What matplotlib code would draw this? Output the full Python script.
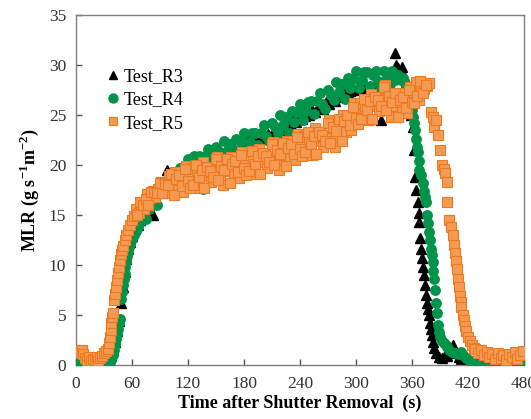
import matplotlib
matplotlib.use("Agg")
import matplotlib.pyplot as plt

# ---------------- data ----------------
r3_t = [0, 3, 6, 9, 12, 15, 18, 21, 24, 27, 30, 33, 36, 38, 40, 42, 44, 46,
        48, 50, 52, 54, 56, 58, 60, 63, 66, 69, 72, 75, 78, 81, 83, 86, 89, 92, 95, 98,
        101, 104, 107, 110, 113, 116, 119, 122, 125, 128, 131, 134, 137, 140, 143, 146, 149,
        152, 155, 158, 161, 164, 167, 170, 173, 176, 179, 182, 185, 188, 191, 194, 197, 200,
        203, 206, 209, 212, 215, 218, 221, 224, 227, 230, 233, 236, 239, 242, 245, 247, 250,
        253, 256, 259, 262, 265, 268, 271, 274, 277, 280, 283, 286, 288, 291, 294, 297, 300,
        303, 306, 309, 312, 316, 319, 322, 325, 327, 330, 333, 336, 339, 341.5, 343, 345, 347,
        349, 351, 353, 355, 357, 359, 361, 362, 363, 364, 366, 367, 368, 369, 370, 371, 372,
        373, 374, 375, 376, 377, 378, 379, 380, 381, 382, 384, 386, 389, 392, 395, 398, 401,
        404, 407, 410, 413, 416, 419, 422, 425, 428, 431, 434, 437, 440, 444, 448, 452, 456,
        460, 464, 468, 472, 476, 480]
r3_v = [0.2, 0.4, 0.3, 0.6, 0.2, 0.1, 0.0, 0.1, 0.2, 0.0, 0.1, 0.3, 0.4, 0.9, 1.5, 2.3, 3.4, 4.4,
        6.2, 7.8, 9.3, 10.6, 11.6, 12.3, 12.9, 13.6, 14.0, 14.5, 15.2, 15.6, 16.0, 16.5, 15.0, 17.2, 17.6, 17.4, 18.0, 19.5,
        18.2, 18.5, 18.6, 19.5, 18.8, 19.1, 19.0, 19.4, 20.0, 19.6, 20.2, 20.3, 20.0, 20.4, 20.6, 20.3, 20.8,
        20.7, 21.3, 21.0, 21.2, 21.3, 21.1, 21.5, 21.2, 21.7, 21.4, 22.0, 22.8, 22.0, 22.4, 22.2, 22.8, 22.7,
        22.6, 23.1, 22.9, 23.4, 23.3, 23.6, 23.5, 23.9, 24.8, 24.0, 24.5, 24.3, 24.7, 24.6, 24.9, 25.3, 25.0,
        25.5, 25.3, 25.7, 25.9, 25.6, 26.3, 26.1, 26.6, 26.4, 27.0, 26.8, 27.2, 28.0, 27.2, 27.4, 27.7, 27.5,
        28.0, 27.7, 28.0, 27.6, 24.6, 27.9, 28.2, 27.8, 24.5, 28.4, 28.6, 28.5, 29.0, 31.2, 30.0, 29.7, 29.2,
        29.8, 28.9, 28.0, 27.2, 26.0, 25.0, 23.8, 21.5, 18.8, 17.5, 16.3, 15.2, 14.3, 12.7, 11.6, 10.7, 9.8,
        9.0, 8.0, 7.0, 6.2, 5.6, 5.0, 4.2, 3.6, 3.0, 2.3, 1.7, 1.2, 0.8, 0.7, 1.0, 0.9, 1.4,
        2.0, 1.2, 0.8, 0.6, 0.4, 0.2, 0.0, 0.2, 0.1, 0.1, 0.0, 0.1, 0.0, 0.1, 0.0, 0.1, 0.0,
        0.1, 0.0, 0.1, 0.0, 0.1, 0.0]

r4_t = [0, 3, 6, 8, 10, 13, 16, 19, 22, 25, 28, 31, 34, 36, 38, 40, 41, 42, 43, 44, 45, 46, 47,
        48, 49, 50, 51, 52, 53, 54, 55, 56, 57, 58, 60, 62, 64, 66, 68, 70,
        72, 75, 78, 81, 84, 87, 90, 93, 96, 99, 102, 105, 108, 111, 114, 117, 120, 123, 126,
        129, 132, 136, 138, 141, 144, 147, 150, 153, 156, 159, 162, 165, 168, 171, 174, 177,
        180, 183, 186, 189, 192, 195, 198, 201, 204, 207, 210, 213, 216, 219, 222, 225, 228,
        231, 234, 237, 240, 243, 246, 249, 252, 255, 258, 261, 264, 267, 270, 273, 276, 279,
        282, 285, 288, 291, 294, 297, 300, 303, 306, 309, 312, 315, 318, 321, 324, 327, 330,
        333, 336, 339, 342, 345,
        348, 350, 352, 354, 356, 358, 360, 361, 362, 363, 364, 365, 366, 367, 368, 370,
        372, 373, 374, 375, 376, 377, 378, 379, 380, 381, 382, 383, 384, 385, 386, 387, 388,
        389, 390, 392, 394, 396, 398, 400, 403, 406, 409, 412, 415, 418, 421, 424, 427, 430,
        433, 436, 439, 442, 445, 448, 451, 454, 457, 460, 463, 466, 469, 472, 475, 478]
r4_v = [0.1, 0.2, 0.5, 1.2, 0.6, 0.2, 0.0, 0.1, 0.0, 0.1, 0.0, 0.2, 0.1, 0.3, 0.6, 1.0, 1.5, 2.1, 2.6, 3.1, 3.6, 4.2, 4.6,
        6.6, 7.3, 8.0, 8.6, 9.1, 9.8, 10.4, 10.9, 11.3, 11.8, 12.1, 12.6, 13.0, 13.4, 13.8, 14.2, 14.4,
        15.1, 14.6, 15.6, 16.4, 16.1, 16.0, 17.4, 17.4, 17.3, 18.5, 18.1, 18.9, 17.5, 19.7, 18.7, 19.7, 20.6, 19.0, 20.9,
        20.8, 20.9, 17.6, 20.9, 21.6, 20.6, 20.0, 21.8, 21.3, 20.7, 22.4, 21.4, 22.1, 20.5, 22.6, 21.5, 22.4,
        23.2, 21.5, 22.3, 23.2, 23.2, 22.0, 23.2, 24.0, 22.9, 22.4, 24.2, 23.8, 23.2, 25.0, 24.0, 24.8, 23.2,
        25.4, 24.3, 25.3, 26.1, 24.5, 25.4, 26.3, 26.4, 25.1, 26.4, 27.2, 26.1, 25.6, 27.5, 27.0, 26.5, 28.3,
        27.3, 28.1, 26.6, 28.7, 27.7, 28.6, 29.4, 27.7, 28.5, 29.3, 29.3, 27.9, 29.0, 29.4, 28.4, 27.7, 29.4,
        28.8, 28.1, 29.4, 28.5, 29.0,
        28.5, 28.7, 28.2, 27.8, 27.0, 26.2, 25.5, 24.8, 24.2, 23.5, 22.6, 21.8, 21.3, 20.4, 19.5, 19.0,
        18.2, 17.4, 16.8, 16.3, 15.0, 14.2, 13.3, 12.5, 11.6, 11.0, 10.3, 9.4, 8.6, 7.5, 6.2, 5.2, 4.0,
        3.3, 2.8, 2.4, 2.2, 2.0, 1.8, 1.5, 1.3, 1.2, 1.1, 1.3, 1.0, 0.7, 0.5, 0.3, 0.2, 0.1,
        0.1, 0.0, 0.1, 0.0, 0.1, 0.0, 0.1, 0.0, 0.1, 0.0, 0.1, 0.0, 0.1, 0.0, 0.1, 0.0]

r5_t = [0, 2, 4, 6, 8, 10, 12, 14, 16, 18, 20, 22, 24, 26, 28, 30, 32, 34, 35, 36, 37, 38, 39, 40,
        41, 42, 43, 44, 45, 46, 47, 48, 49, 50, 52, 54, 56, 58, 60, 62,
        64, 67, 70, 73, 76, 79, 82, 85, 88, 91, 94, 97, 100, 103, 106, 109, 112, 115, 118, 121,
        124, 127, 130, 133, 136, 139, 142, 145, 148, 151, 154, 157, 160, 163, 166, 169, 172, 175,
        178, 181, 184, 187, 190, 193, 196, 199, 202, 205, 208, 211, 214, 217, 220, 223, 226, 229,
        232, 235, 238, 241, 244, 247, 250, 253, 256, 259, 262, 265, 268, 271, 274, 277, 280, 283,
        286, 289, 292, 295, 298, 301, 304, 307, 310, 313, 316, 319, 322, 325, 328, 331, 334, 337,
        340, 343, 346, 349, 352, 355, 358, 361, 364, 367, 370, 373, 376,
        378, 380, 382, 384, 386, 388, 390, 392, 394, 395, 397, 398, 400, 402, 404, 405, 406, 407,
        408, 409, 410, 411, 412, 413, 415, 416, 417, 418, 420, 422, 424, 426, 428, 431, 434, 437,
        440, 443, 446, 449, 452, 455, 458, 461, 464, 467, 470, 473, 476, 479]
r5_v = [1.2, 1.5, 1.3, 1.5, 1.1, 0.7, 0.5, 0.8, 0.4, 0.6, 0.5, 0.8, 0.4, 0.7, 0.9, 1.2, 1.4, 1.6, 2.2, 2.8, 3.5, 4.2, 4.8, 5.2,
        6.5, 7.1, 7.8, 8.5, 9.2, 9.8, 10.5, 11.1, 11.5, 11.9, 12.5, 13.0, 13.5, 14.0, 14.5, 14.9,
        15.6, 15.2, 16.1, 15.6, 17.1, 16.7, 17.4, 16.8, 17.6, 18.3, 17.5, 17.2, 18.9, 17.9, 19.3, 17.5, 18.9, 17.3, 19.9, 18.7,
        19.7, 18.2, 19.2, 17.7, 20.3, 18.9, 19.8, 18.3, 19.5, 20.8, 18.9, 18.0, 20.4, 19.4, 20.8, 18.9, 20.3, 18.7,
        21.3, 20.0, 21.0, 19.5, 20.6, 19.1, 21.6, 20.3, 21.2, 19.7, 20.9, 22.3, 20.4, 19.5, 22.0, 21.0, 22.4, 20.6,
        22.0, 20.5, 23.1, 21.9, 22.9, 21.4, 22.5, 21.0, 23.7, 22.4, 23.3, 21.8, 23.0, 24.5, 22.7, 21.8, 24.4, 23.5,
        25.0, 23.3, 24.9, 23.5, 26.2, 25.1, 26.2, 24.7, 25.9, 24.5, 27.1, 25.9, 26.8, 25.4, 26.6, 28.0, 25.9, 24.8,
        27.1, 25.9, 27.2, 25.3, 26.7, 25.2, 27.8, 26.7, 28.3, 26.5, 27.6, 27.6, 27.9,
        28.2, 25.3, 24.8, 23.8, 24.5, 23.0, 21.5, 20.0, 19.6, 19.2, 18.3, 16.3, 14.5, 13.8, 13.0, 12.0, 11.2, 10.4,
        9.6, 8.6, 7.8, 6.9, 6.3, 5.8, 5.0, 4.5, 3.9, 3.4, 2.8, 2.4, 2.0, 1.7, 1.6, 1.2, 1.5, 1.0,
        1.3, 0.8, 1.1, 0.6, 1.2, 0.7, 1.0, 0.5, 1.1, 0.8, 1.3, 0.6, 1.0, 1.4]

# intermediate R5 samples in the plateau
r5b_t = [65.5, 68.5, 71.5, 74.5, 77.5, 80.5, 83.5, 86.5, 89.5, 92.5, 95.5, 98.5, 101.5, 104.5,
         107.5, 110.5, 113.5, 116.5, 119.5, 122.5, 125.5, 128.5, 131.5, 134.5, 137.5, 140.5,
         143.5, 146.5, 149.5, 152.5, 155.5, 158.5, 161.5, 164.5, 167.5, 170.5, 173.5, 176.5,
         179.5, 182.5, 185.5, 188.5, 191.5, 194.5, 197.5, 200.5, 203.5, 206.5, 209.5, 212.5,
         215.5, 218.5, 221.5, 224.5, 227.5, 230.5, 233.5, 236.5, 239.5, 242.5, 245.5, 248.5,
         251.5, 254.5, 257.5, 260.5, 263.5, 266.5, 269.5, 272.5, 275.5, 278.5, 281.5, 284.5,
         287.5, 290.5, 293.5, 296.5, 299.5, 302.5, 305.5, 308.5, 311.5, 314.5, 317.5, 320.5,
         323.5, 326.5, 329.5, 332.5, 335.5, 338.5, 341.5, 344.5, 347.5, 350.5, 353.5, 356.5,
         359.5, 362.5, 365.5, 368.5, 371.5, 374.5]
r5b_v = [15.0, 16.3, 16.0, 16.6, 16.0, 17.3, 17.3, 17.2, 18.2, 17.2, 18.1, 18.0, 19.1, 17.0,
         18.6, 19.0, 17.9, 19.6, 18.4, 17.7, 18.0, 20.0, 18.8, 19.5, 17.7, 19.8,
         19.4, 18.8, 20.6, 18.5, 19.9, 19.5, 20.6, 18.2, 20.1, 20.4, 19.3, 21.0,
         19.7, 19.0, 19.4, 21.4, 20.1, 20.9, 19.1, 21.2, 20.9, 20.3, 22.1, 20.0,
         21.5, 21.1, 22.2, 19.9, 21.7, 22.1, 21.1, 22.8, 21.6, 20.9, 21.3, 23.3,
         22.1, 22.9, 21.1, 23.3, 23.0, 22.4, 24.2, 22.2, 23.8, 23.4, 24.6, 22.4,
         24.4, 25.0, 24.0, 25.8, 24.7, 24.1, 24.6, 26.6, 25.5, 26.4, 24.6, 26.8,
         26.5, 25.9, 27.8, 25.5, 26.9, 26.3, 27.2, 24.8, 26.5, 26.8, 25.7, 27.5,
         26.3, 26.2, 26.9, 28.4, 27.2, 28.0]

x_ticks = [0, 60, 120, 180, 240, 300, 360, 420, 480]
y_ticks = [0, 5, 10, 15, 20, 25, 30, 35]
labels = ["Test_R3", "Test_R4", "Test_R5"]

# ---------------- style ----------------
plt.rcParams['font.family'] = ['Liberation Serif', 'DejaVu Serif']
plt.rcParams['mathtext.fontset'] = 'custom'
plt.rcParams['mathtext.rm'] = 'Liberation Serif'
plt.rcParams['mathtext.bf'] = 'Liberation Serif:bold'

fig = plt.figure(figsize=(5.31, 4.19), dpi=100)
ax = fig.add_axes([76 / 531, (419 - 365) / 419, (524 - 76) / 531, 350 / 419])

orange_face = '#F59A52'
orange_edge = '#EB7A22'

ax.plot(r3_t, r3_v, linestyle='none', marker='^', ms=6.5, color='black', label=labels[0], zorder=2)
ax.plot(r4_t, r4_v, linestyle='none', marker='o', ms=6.8, color='#00934A', label=labels[1], zorder=3)
ax.plot(r5_t, r5_v, linestyle='none', marker='s', ms=6.6, markerfacecolor=orange_face,
        markeredgecolor=orange_edge, markeredgewidth=0.8, label=labels[2], zorder=4)
ax.plot(r5b_t, r5b_v, linestyle='none', marker='s', ms=6.6, markerfacecolor=orange_face,
        markeredgecolor=orange_edge, markeredgewidth=0.8, zorder=4)

ax.set_xlim(0, 480)
ax.set_ylim(0, 35)
ax.set_xticks(x_ticks)
ax.set_yticks(y_ticks)
ax.tick_params(direction='in', length=4, width=1, color='#555555', labelsize=12.5,
               labelcolor='#333333', pad=7)
ax.tick_params(axis='x', pad=8)
for s in ax.spines.values():
    s.set_color('#7f7f7f')
    s.set_linewidth(1.0)

ax.set_xlabel('Time after Shutter Removal  (s)', fontsize=13, fontweight='bold', labelpad=2)
ax.set_ylabel(r'MLR (g s$^{\mathbf{-1}}$m$^{\mathbf{-2}}$)', fontsize=13, fontweight='bold', labelpad=6)

leg = ax.legend(loc='upper left', bbox_to_anchor=(0.055, 0.869), frameon=False, fontsize=13,
                handlelength=0.6, handletextpad=0.3, borderaxespad=0, labelspacing=0.35,
                markerscale=0.95)

fig.savefig('out.png', dpi=100)
